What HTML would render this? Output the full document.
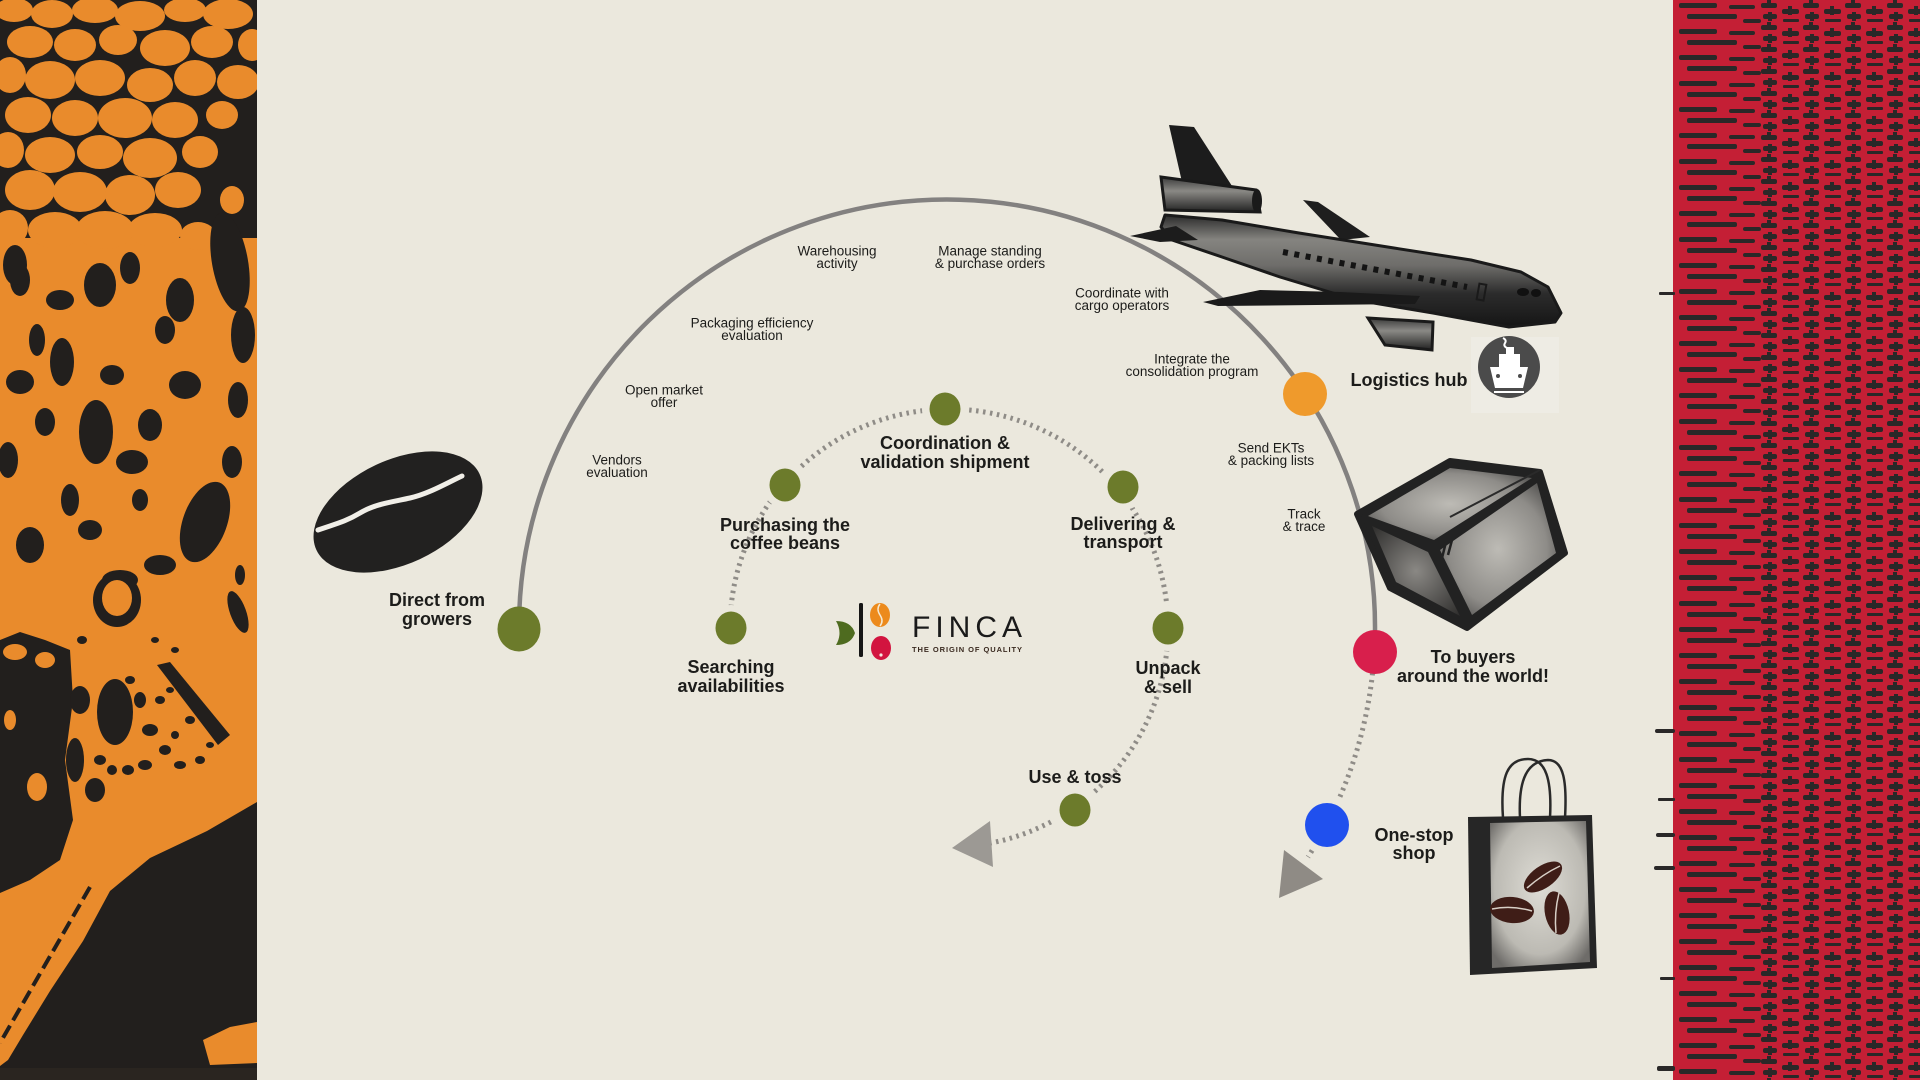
<!DOCTYPE html>
<html><head><meta charset="utf-8">
<style>
html,body{margin:0;padding:0;width:1920px;height:1080px;overflow:hidden;background:#ebe8dd;}
svg{display:block}
text{font-family:"Liberation Sans",sans-serif;fill:#1c1c1a}
.b{font-weight:bold;font-size:18px}
.s{font-size:13.5px}
</style></head><body>
<svg width="1920" height="1080" viewBox="0 0 1920 1080" xmlns="http://www.w3.org/2000/svg">
<defs>
 <clipPath id="lp"><rect x="0" y="0" width="257" height="1080"/></clipPath>
 <clipPath id="rp"><rect x="1650" y="0" width="270" height="1080"/></clipPath>
 <pattern id="pA" width="92" height="26" patternUnits="userSpaceOnUse" x="1673" y="0">
  <rect x="6" y="3" width="38" height="5" rx="2" fill="#2a2828"/>
  <rect x="56" y="5" width="26" height="4" rx="2" fill="#2a2828"/>
  <rect x="14" y="14" width="50" height="5" rx="2" fill="#2a2828"/>
  <rect x="70" y="19" width="18" height="4" rx="2" fill="#2a2828"/>
 </pattern>
 <pattern id="pB" width="42" height="22" patternUnits="userSpaceOnUse" x="1760" y="0">
  <g fill="#2a2828">
   <rect x="1" y="3" width="16" height="5" rx="2"/><rect x="7" y="0" width="4" height="8"/>
   <rect x="22" y="9" width="17" height="5" rx="2"/><rect x="28" y="6" width="4" height="9"/>
   <rect x="3" y="14" width="14" height="5" rx="2"/><rect x="8" y="12" width="4" height="9"/>
   <rect x="23" y="19" width="16" height="3" rx="1"/>
  </g>
 </pattern>
 <linearGradient id="fus" x1="0" y1="0" x2="0" y2="1">
  <stop offset="0" stop-color="#2a2a2a"/>
  <stop offset="0.22" stop-color="#858480"/>
  <stop offset="0.45" stop-color="#6e6d6a"/>
  <stop offset="0.7" stop-color="#2c2c2c"/>
  <stop offset="1" stop-color="#151515"/>
 </linearGradient>
 <linearGradient id="eng" x1="0" y1="0" x2="0" y2="1">
  <stop offset="0" stop-color="#3a3a3a"/>
  <stop offset="0.4" stop-color="#8a8985"/>
  <stop offset="1" stop-color="#222"/>
 </linearGradient>
 <radialGradient id="boxg" cx="0.5" cy="0.5" r="0.7">
  <stop offset="0" stop-color="#bdbbb5"/>
  <stop offset="0.6" stop-color="#8e8c88"/>
  <stop offset="1" stop-color="#3a3938"/>
 </radialGradient>
 <radialGradient id="boxd" cx="0.5" cy="0.5" r="0.7">
  <stop offset="0" stop-color="#8a8884"/>
  <stop offset="1" stop-color="#2e2d2c"/>
 </radialGradient>
 <radialGradient id="bagg" cx="0.5" cy="0.45" r="0.65">
  <stop offset="0" stop-color="#dedcd5"/>
  <stop offset="0.7" stop-color="#bcbab3"/>
  <stop offset="1" stop-color="#6e6c69"/>
 </radialGradient>
</defs>

<rect width="1920" height="1080" fill="#ebe8dd"/>

<!-- LEFT PANEL -->
<g clip-path="url(#lp)">
 <rect x="0" y="0" width="257" height="1080" fill="#e98b2c"/>
 <rect x="0" y="0" width="257" height="238" fill="#221f1d"/>
 <g fill="#e98b2c">
  <ellipse cx="14" cy="10" rx="19" ry="12"/><ellipse cx="52" cy="14" rx="21" ry="14"/><ellipse cx="95" cy="10" rx="23" ry="13"/><ellipse cx="140" cy="16" rx="25" ry="15"/><ellipse cx="185" cy="10" rx="21" ry="12"/><ellipse cx="228" cy="14" rx="25" ry="15"/>
  <ellipse cx="30" cy="42" rx="23" ry="16"/><ellipse cx="75" cy="45" rx="21" ry="16"/><ellipse cx="118" cy="40" rx="19" ry="15"/><ellipse cx="165" cy="48" rx="25" ry="18"/><ellipse cx="212" cy="42" rx="21" ry="16"/><ellipse cx="252" cy="45" rx="14" ry="16"/>
  <ellipse cx="10" cy="75" rx="16" ry="18"/><ellipse cx="50" cy="80" rx="25" ry="19"/><ellipse cx="100" cy="78" rx="25" ry="18"/><ellipse cx="150" cy="85" rx="23" ry="17"/><ellipse cx="195" cy="78" rx="21" ry="18"/><ellipse cx="238" cy="82" rx="21" ry="17"/>
  <ellipse cx="28" cy="115" rx="23" ry="18"/><ellipse cx="75" cy="118" rx="23" ry="18"/><ellipse cx="125" cy="118" rx="27" ry="20"/><ellipse cx="175" cy="120" rx="23" ry="18"/><ellipse cx="222" cy="115" rx="16" ry="14"/>
  <ellipse cx="8" cy="150" rx="16" ry="18"/><ellipse cx="50" cy="155" rx="25" ry="18"/><ellipse cx="100" cy="152" rx="23" ry="17"/><ellipse cx="150" cy="158" rx="27" ry="20"/><ellipse cx="200" cy="152" rx="18" ry="16"/>
  <ellipse cx="30" cy="190" rx="25" ry="20"/><ellipse cx="80" cy="192" rx="27" ry="20"/><ellipse cx="130" cy="195" rx="25" ry="20"/><ellipse cx="178" cy="190" rx="23" ry="18"/><ellipse cx="232" cy="200" rx="12" ry="14"/>
  <ellipse cx="10" cy="228" rx="18" ry="18"/><ellipse cx="55" cy="230" rx="27" ry="18"/><ellipse cx="105" cy="230" rx="29" ry="19"/><ellipse cx="155" cy="230" rx="27" ry="17"/><ellipse cx="198" cy="236" rx="18" ry="14"/>
 </g>
 <g fill="#221f1d">
  <ellipse cx="230" cy="262" rx="18" ry="50" transform="rotate(-10 230 262)"/>
  <ellipse cx="100" cy="285" rx="16" ry="22"/>
  <ellipse cx="37" cy="340" rx="8" ry="16"/>
  <ellipse cx="62" cy="362" rx="12" ry="24"/>
  <ellipse cx="96" cy="432" rx="17" ry="32"/>
  <ellipse cx="150" cy="425" rx="12" ry="16"/>
  <ellipse cx="205" cy="522" rx="22" ry="42" transform="rotate(20 205 522)"/>
  <ellipse cx="8" cy="460" rx="10" ry="18"/>
  <ellipse cx="120" cy="580" rx="18" ry="10"/>
  <ellipse cx="238" cy="400" rx="10" ry="18"/>
  <ellipse cx="70" cy="500" rx="9" ry="16"/>
  <ellipse cx="165" cy="330" rx="10" ry="14"/>
  <ellipse cx="20" cy="280" rx="10" ry="16"/>
  <ellipse cx="140" cy="500" rx="8" ry="11"/>
  <ellipse cx="15" cy="265" rx="12" ry="20"/>
  <ellipse cx="60" cy="300" rx="14" ry="10"/>
  <ellipse cx="130" cy="268" rx="10" ry="16"/>
  <ellipse cx="180" cy="300" rx="14" ry="22"/>
  <ellipse cx="243" cy="335" rx="12" ry="28"/>
  <ellipse cx="20" cy="382" rx="14" ry="12"/>
  <ellipse cx="112" cy="375" rx="12" ry="10"/>
  <ellipse cx="185" cy="385" rx="16" ry="14"/>
  <ellipse cx="45" cy="422" rx="10" ry="14"/>
  <ellipse cx="132" cy="462" rx="16" ry="12"/>
  <ellipse cx="232" cy="462" rx="10" ry="16"/>
  <ellipse cx="30" cy="545" rx="14" ry="18"/>
  <ellipse cx="90" cy="530" rx="12" ry="10"/>
  <ellipse cx="160" cy="565" rx="16" ry="10"/>
  <ellipse cx="238" cy="612" rx="8" ry="22" transform="rotate(-20 238 612)"/>
 </g>
 <ellipse cx="117" cy="600" rx="24" ry="27" fill="#221f1d"/>
 <ellipse cx="117" cy="598" rx="15" ry="18" fill="#e98b2c"/>
 <path d="M0,640 L20,632 L45,640 L70,650 L73,700 L65,760 L73,820 L60,860 L30,880 L0,893 Z" fill="#221f1d"/>
 <g fill="#e98b2c">
  <ellipse cx="15" cy="652" rx="12" ry="8"/><ellipse cx="45" cy="660" rx="10" ry="8"/><ellipse cx="37" cy="787" rx="10" ry="14"/><ellipse cx="10" cy="720" rx="6" ry="10"/>
 </g>
 <g fill="#221f1d">
  <ellipse cx="115" cy="712" rx="18" ry="33"/>
  <path d="M157,665 L170,662 L230,735 L218,745 Z"/>
  <ellipse cx="80" cy="700" rx="10" ry="14"/>
  <ellipse cx="75" cy="760" rx="9" ry="22"/>
  <ellipse cx="95" cy="790" rx="10" ry="12"/>
  <ellipse cx="150" cy="730" rx="8" ry="6"/><ellipse cx="165" cy="750" rx="6" ry="5"/><ellipse cx="145" cy="765" rx="7" ry="5"/>
  <ellipse cx="180" cy="765" rx="6" ry="4"/><ellipse cx="128" cy="770" rx="6" ry="5"/><ellipse cx="140" cy="700" rx="6" ry="8"/>
  <ellipse cx="190" cy="720" rx="5" ry="4"/><ellipse cx="200" cy="760" rx="5" ry="4"/><ellipse cx="112" cy="770" rx="5" ry="5"/>
  <ellipse cx="160" cy="700" rx="5" ry="4"/><ellipse cx="130" cy="680" rx="5" ry="4"/><ellipse cx="100" cy="760" rx="6" ry="5"/>
  <ellipse cx="175" cy="735" rx="4" ry="4"/><ellipse cx="210" cy="745" rx="4" ry="3"/><ellipse cx="170" cy="690" rx="4" ry="3"/>
  <ellipse cx="155" cy="640" rx="4" ry="3"/><ellipse cx="175" cy="650" rx="4" ry="3"/><ellipse cx="82" cy="640" rx="5" ry="4"/>
  <ellipse cx="240" cy="575" rx="5" ry="10"/>
 </g>
 <path d="M257,802 L207,831 L150,858 L110,891 L83,941 L50,991 L23,1035 L8,1060 L0,1066 L0,1080 L257,1080 Z" fill="#221f1d"/>
 <path d="M90,887 L0,1043" stroke="#221f1d" stroke-width="4" stroke-dasharray="14 6"/>
 <path d="M203,1040 L230,1027 L257,1022 L257,1063 L210,1065 Z" fill="#e98b2c"/>
 <rect x="0" y="1068" width="257" height="12" fill="#2a2520"/>
</g>

<!-- RIGHT PANEL -->
<g clip-path="url(#rp)">
 <rect x="1673" y="0" width="247" height="1080" fill="#c41f35"/>
 <rect x="1673" y="0" width="92" height="1080" fill="url(#pA)"/>
 <rect x="1760" y="0" width="160" height="1080" fill="url(#pB)"/>
 <g fill="#2a2828">
  <rect x="1659" y="292" width="16" height="3" rx="1"/>
  <rect x="1655" y="729" width="20" height="4" rx="2"/>
  <rect x="1658" y="798" width="17" height="3" rx="1"/>
  <rect x="1656" y="833" width="19" height="4" rx="2"/>
  <rect x="1654" y="866" width="21" height="4" rx="2"/>
  <rect x="1660" y="977" width="15" height="3" rx="1"/>
  <rect x="1657" y="1066" width="18" height="5" rx="2"/>
 </g>
</g>

<!-- COFFEE BEAN -->
<g>
 <ellipse cx="398" cy="512" rx="90" ry="52" transform="rotate(-25 398 512)" fill="#222120"/>
 <path d="M318,530 C335,524 345,522 360,513 S392,502 410,498 S445,484 462,476" stroke="#f1efe8" stroke-width="5" fill="none" stroke-linecap="round"/>
</g>

<!-- MAIN ARC -->
<path d="M519,627 A428,428 0 1 1 1374.3,652" stroke="#838180" stroke-width="4.5" fill="none"/>
<path d="M1374.3,652 A428,428 0 0 1 1308,857" stroke="#8f8c87" stroke-width="5" stroke-dasharray="2.5 4.5" fill="none"/>

<!-- INNER DOTTED -->
<path d="M730,628 A219,219 0 0 1 1168,628" stroke="#8f8c87" stroke-width="5" stroke-dasharray="2.5 4.5" fill="none"/>
<path d="M1168,628 A219,219 0 0 1 990.8,843" stroke="#8f8c87" stroke-width="5" stroke-dasharray="2.5 4.5" fill="none"/>

<!-- ARROWHEADS -->
<polygon points="952,848 990,821 993,867" fill="#9c9994"/>
<polygon points="1284,850 1323,879 1279,898" fill="#8f8b85"/>

<!-- NODE HALOS -->
<g fill="#ebe8dd">
 <circle cx="731" cy="628" r="23"/>
 <circle cx="785" cy="485" r="23"/>
 <circle cx="945" cy="409" r="23"/>
 <circle cx="1123" cy="487" r="23"/>
 <circle cx="1168" cy="628" r="23"/>
 <circle cx="1075" cy="810" r="23"/>
 <circle cx="1327" cy="825" r="29"/>
</g>
<g fill="#6c7b2b">
 <ellipse cx="731" cy="628" rx="15.5" ry="16.5"/>
 <ellipse cx="785" cy="485" rx="15.5" ry="16.5"/>
 <ellipse cx="945" cy="409" rx="15.5" ry="16.5"/>
 <ellipse cx="1123" cy="487" rx="15.5" ry="16.5"/>
 <ellipse cx="1168" cy="628" rx="15.5" ry="16.5"/>
 <ellipse cx="1075" cy="810" rx="15.5" ry="16.5"/>
</g>
<ellipse cx="1327" cy="825" rx="22" ry="22" fill="#2050ee"/>
<ellipse cx="519" cy="629" rx="21.5" ry="22.5" fill="#6c7b2b"/>
<ellipse cx="1305" cy="394" rx="22" ry="22" fill="#ef9a2c"/>
<ellipse cx="1375" cy="652" rx="22" ry="22" fill="#d81f4c"/>

<!-- AIRPLANE -->
<g>
 <polygon points="1303,200 1318,202 1370,237 1341,240" fill="#1e1e1e"/>
 <polygon points="1169,125 1194,127 1232,186 1182,182" fill="#1c1c1c"/>
 <path d="M1161,227 L1165,215 L1222,220 L1299,233 L1394,248 L1471,260 L1521,272 L1548,287 L1561,313 L1555,322 L1509,327 L1433,313 L1356,300 L1280,277 L1222,257 L1172,240 Z" fill="url(#fus)" stroke="#1a1a1a" stroke-width="3" stroke-linejoin="round"/>
 <polygon points="1130,236 1176,226 1198,240 1160,242" fill="#1c1c1c"/>
 <path d="M1161,177 L1256,190 L1260,212 L1165,210 Z" fill="url(#eng)" stroke="#1a1a1a" stroke-width="3"/>
 <ellipse cx="1257" cy="201" rx="5" ry="12" fill="#1a1a1a"/>
 <polygon points="1203,302 1260,290 1340,292 1420,296 1415,304 1218,306" fill="#1a1a1a"/>
 <path d="M1368,318 L1433,322 L1432,350 L1385,345 Z" fill="url(#eng)" stroke="#1a1a1a" stroke-width="3"/>
 <line x1="1283" y1="252" x2="1467" y2="287" stroke="#141414" stroke-width="6" stroke-dasharray="5 6.5"/>
 <rect x="1478" y="284" width="7" height="16" fill="none" stroke="#1a1a1a" stroke-width="2" transform="rotate(10 1481 292)"/>
 <ellipse cx="1523" cy="292" rx="6" ry="4" fill="#111"/>
 <ellipse cx="1536" cy="293" rx="5" ry="4" fill="#111"/>
</g>

<!-- SHIP ICON -->
<g>
 <rect x="1471" y="337" width="88" height="76" fill="#eeece4"/>
 <circle cx="1509" cy="367" r="31" fill="#4b4b4b"/>
 <path d="M1503,338 q4,2 2,5 q-2,3 2,5" stroke="#fff" stroke-width="2" fill="none"/>
 <rect x="1506" y="347" width="8" height="7" fill="#fff"/>
 <rect x="1499" y="354" width="21" height="13" fill="#fff"/>
 <polygon points="1490,367 1528,367 1523,388 1495,388" fill="#fff"/>
 <circle cx="1498" cy="376" r="2" fill="#4b4b4b"/>
 <circle cx="1520" cy="376" r="2" fill="#4b4b4b"/>
 <rect x="1494" y="391" width="30" height="2" fill="#fff"/>
</g>

<!-- BOX -->
<g stroke-linejoin="round">
 <polygon points="1357,514 1450,461 1540,472 1565,553 1467,628 1390,588" fill="#222" stroke="#222" stroke-width="6"/>
 <polygon points="1368,516 1450,468 1532,478 1434,540" fill="url(#boxg)"/>
 <polygon points="1372,526 1428,552 1460,616 1396,582" fill="url(#boxd)"/>
 <polygon points="1440,550 1537,483 1556,553 1472,615" fill="url(#boxg)"/>
 <line x1="1450" y1="517" x2="1540" y2="470" stroke="#2a2a2a" stroke-width="2"/>
 <g stroke="#222" stroke-width="2.5">
  <line x1="1440" y1="545" x2="1436" y2="560"/><line x1="1446" y1="542" x2="1442" y2="558"/><line x1="1452" y1="540" x2="1448" y2="555"/>
 </g>
</g>

<!-- BAG -->
<g>
 <path d="M1503,818 C1500,775 1508,759 1528,759 C1546,759 1552,780 1550,818" stroke="#2a2a2a" stroke-width="2.5" fill="none"/>
 <path d="M1520,818 C1518,778 1528,761 1548,760 C1564,760 1567,782 1565,818" stroke="#2a2a2a" stroke-width="2.5" fill="none"/>
 <polygon points="1468,817 1592,815 1597,968 1470,975" fill="#262626"/>
 <polygon points="1490,823 1586,821 1590,962 1492,968" fill="url(#bagg)"/>
 <g fill="#3f1d17">
  <ellipse cx="1543" cy="877" rx="22" ry="11" transform="rotate(-35 1543 877)"/>
  <ellipse cx="1512" cy="910" rx="22" ry="13" transform="rotate(5 1512 910)"/>
  <ellipse cx="1557" cy="913" rx="12" ry="22" transform="rotate(-12 1557 913)"/>
 </g>
 <g stroke="#d8cfc6" stroke-width="1.5" fill="none">
  <path d="M1527,888 Q1543,874 1560,866"/>
  <path d="M1492,909 Q1512,905 1532,911"/>
  <path d="M1559,893 Q1554,913 1556,933"/>
 </g>
</g>

<!-- LOGO -->
<g>
 <path d="M836,621 Q851,621 855,633 Q851,645 836,645 Q843,633 836,621 Z" fill="#4e6b1f"/>
 <rect x="859" y="603" width="4" height="54" rx="1.5" fill="#151515"/>
 <ellipse cx="880" cy="615" rx="10" ry="12" fill="#ec8a1c"/>
 <path d="M880,604 q-4,5 0,11 q4,6 0,11" stroke="#f5e8d0" stroke-width="1.5" fill="none"/>
 <ellipse cx="881" cy="648" rx="10" ry="12" fill="#d2143f"/>
 <circle cx="881" cy="655" r="1.6" fill="#f5e8e0"/>
 <text x="912" y="637" font-size="30" textLength="110" lengthAdjust="spacing" style="fill:#1a1a1a">FINCA</text>
 <text x="912" y="652" font-size="7.5" font-weight="bold" textLength="110" lengthAdjust="spacing" style="fill:#3a2a20">THE ORIGIN OF QUALITY</text>
</g>

<!-- BOLD LABELS -->
<g class="b" text-anchor="middle">
 <text x="437" y="606">Direct from</text><text x="437" y="625">growers</text>
 <text x="945" y="449">Coordination &amp;</text><text x="945" y="468">validation shipment</text>
 <text x="785" y="531">Purchasing the</text><text x="785" y="549">coffee beans</text>
 <text x="1123" y="530">Delivering &amp;</text><text x="1123" y="548">transport</text>
 <text x="731" y="673">Searching</text><text x="731" y="692">availabilities</text>
 <text x="1168" y="674">Unpack</text><text x="1168" y="693">&amp; sell</text>
 <text x="1075" y="783">Use &amp; toss</text>
 <text x="1409" y="386">Logistics hub</text>
 <text x="1473" y="663">To buyers</text><text x="1473" y="682">around the world!</text>
 <text x="1414" y="841">One-stop</text><text x="1414" y="859">shop</text>
</g>

<!-- SMALL LABELS -->
<g class="s" text-anchor="middle">
 <text x="837" y="255.5">Warehousing</text><text x="837" y="268">activity</text>
 <text x="990" y="255.5">Manage standing</text><text x="990" y="268">&amp; purchase orders</text>
 <text x="1122" y="297.5">Coordinate with</text><text x="1122" y="310">cargo operators</text>
 <text x="752" y="327.5">Packaging efficiency</text><text x="752" y="340">evaluation</text>
 <text x="1192" y="363.5">Integrate the</text><text x="1192" y="376">consolidation program</text>
 <text x="664" y="394.5">Open market</text><text x="664" y="407">offer</text>
 <text x="617" y="464.5">Vendors</text><text x="617" y="477">evaluation</text>
 <text x="1271" y="452.5">Send EKTs</text><text x="1271" y="465">&amp; packing lists</text>
 <text x="1304" y="518.5">Track</text><text x="1304" y="531">&amp; trace</text>
</g>
</svg>
</body></html>
